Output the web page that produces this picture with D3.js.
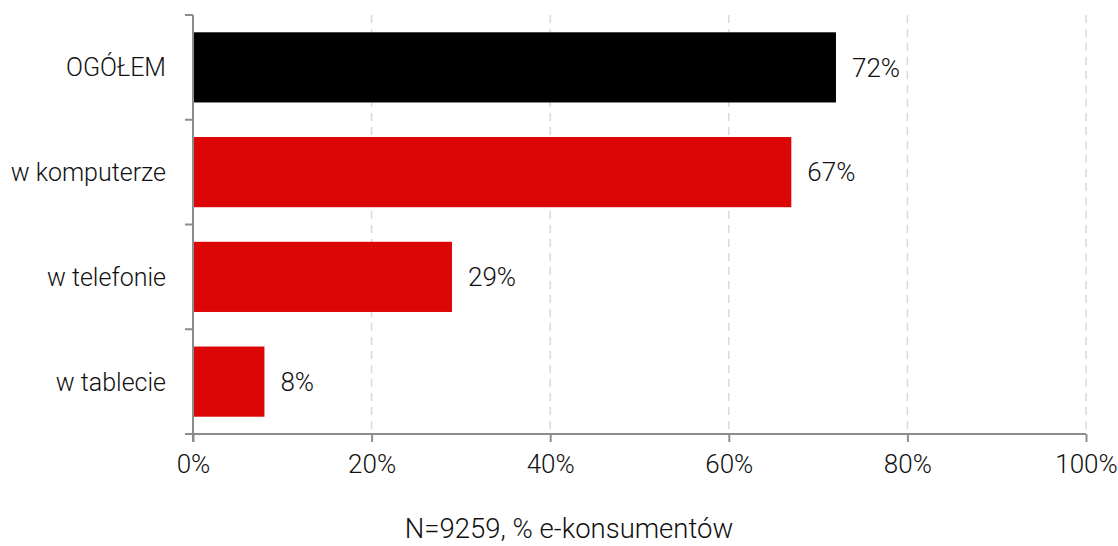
<!DOCTYPE html>
<html><head><meta charset="utf-8">
<script src="https://cdn.jsdelivr.net/npm/d3@7"></script>
<style>
body{margin:0;background:#fff;}
text{font-family:Roboto, "Open Sans", sans-serif;font-weight:300;fill:#111;}
</style></head><body>
<svg id="c" width="1118" height="546"></svg>
<script>
const categories = ["OGÓŁEM","w komputerze","w telefonie","w tablecie"];
const values = [72, 67, 29, 8];
const barColors = ["#000000","#dd0606","#dd0606","#dd0606"];
const xTicks = [0,20,40,60,80,100];
const footnote = "N=9259, % e-konsumentów";

(function(){
const svg = d3.select("#c");
const mL = 193, mR = 1086, mT = 15, mB = 434;
const x = d3.scaleLinear().domain([0,100]).range([mL,mR]);
const y = d3.scaleBand().domain(categories).range([mT,mB]).paddingInner(0.33).paddingOuter(0.165);

svg.append("g").selectAll("line").data(xTicks.filter(d=>d>0)).join("line")
  .attr("x1",d=>x(d)).attr("x2",d=>x(d)).attr("y1",mT).attr("y2",mB)
  .attr("stroke","#d9d9d9").attr("stroke-width",1.5).attr("stroke-dasharray","8,6");

svg.append("g").selectAll("rect").data(values).join("rect")
  .attr("x",x(0)).attr("y",(d,i)=>y(categories[i]))
  .attr("width",d=>x(d)-x(0)).attr("height",y.bandwidth())
  .attr("fill",(d,i)=>barColors[i]);

svg.append("g").selectAll("text").data(values).join("text")
  .attr("x",d=>x(d)+16).attr("y",(d,i)=>y(categories[i])+y.bandwidth()/2)
  .attr("dy","0.36em").attr("font-size",26).text(d=>d+"%");

const xa = svg.append("g").attr("transform",`translate(0,${mB})`)
  .call(d3.axisBottom(x).tickValues(xTicks).tickFormat(d=>d+"%").tickSize(8).tickPadding(13));
xa.select(".domain").attr("d",`M${mL-8},0H${mR}`);
xa.selectAll("line,path").attr("stroke","#8c8c8c").attr("stroke-width",2);
xa.selectAll("text").attr("font-size",26).attr("fill","#111").attr("font-family","Roboto");

const bounds = categories.map(c=>y(c)-y.step()*y.paddingInner()/2);
bounds[0] = mT;
svg.append("line").attr("x1",mL).attr("x2",mL).attr("y1",mT).attr("y2",mB+8)
  .attr("stroke","#8c8c8c").attr("stroke-width",2);
svg.append("g").selectAll("line").data(bounds).join("line")
  .attr("x1",mL-8).attr("x2",mL).attr("y1",d=>d).attr("y2",d=>d)
  .attr("stroke","#8c8c8c").attr("stroke-width",2);

svg.append("g").selectAll("text").data(categories).join("text")
  .attr("x",mL-27).attr("y",d=>y(d)+y.bandwidth()/2).attr("dy","0.36em")
  .attr("text-anchor","end").attr("font-size",25).text(d=>d);

svg.append("text").attr("x",569).attr("y",538).attr("text-anchor","middle")
  .attr("font-size",27.5).text(footnote);
})();
</script></body></html>
